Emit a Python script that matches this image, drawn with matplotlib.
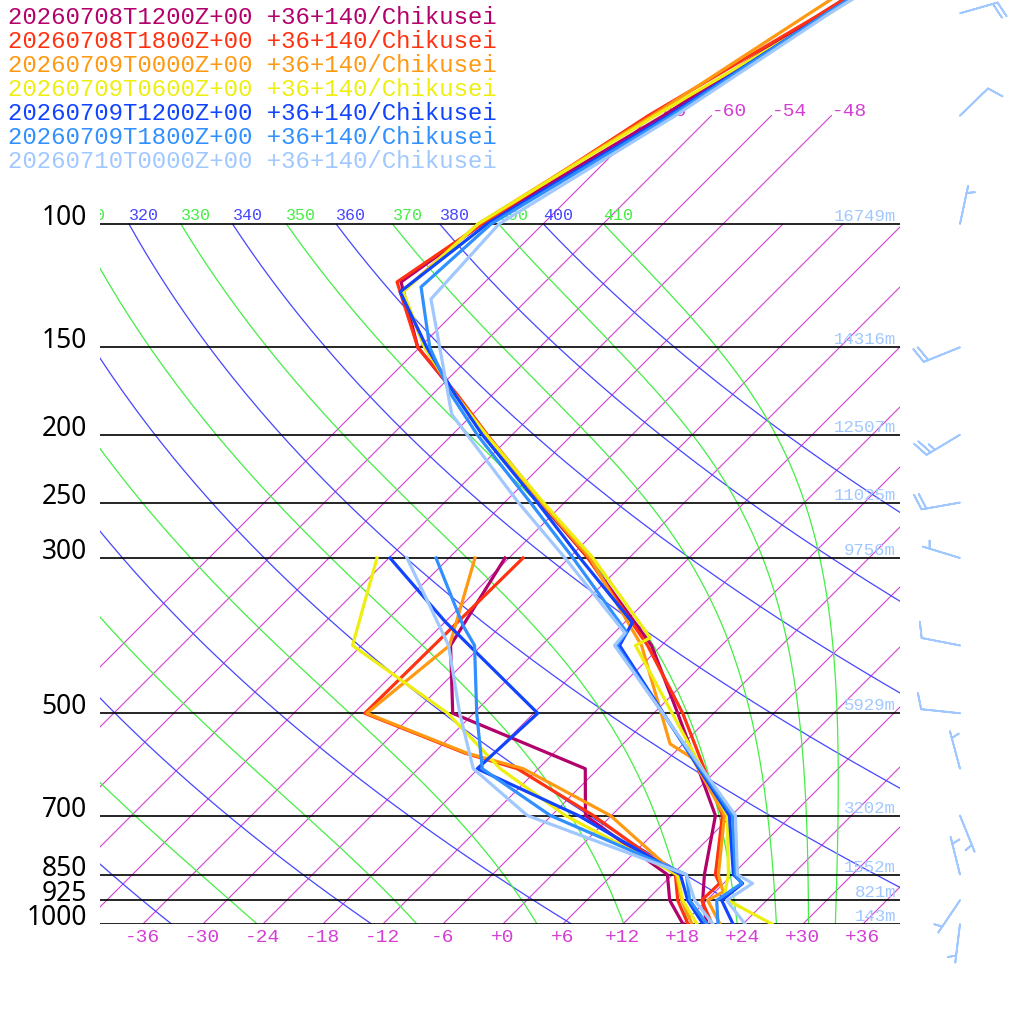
import numpy as np
import matplotlib
matplotlib.use('Agg')
import matplotlib.pyplot as plt
from matplotlib.transforms import offset_copy

# model runs in the legend, oldest first
RUNS = ['20260708T1200Z+00', '20260708T1800Z+00', '20260709T0000Z+00', '20260709T0600Z+00',
        '20260709T1200Z+00', '20260709T1800Z+00', '20260710T0000Z+00']
PLACE = '+36+140/Chikusei'

# temperature profiles: pressure (hPa) and temperature (degC), one list per run
TEMP_P = [
    [30, 50, 70, 100, 121, 150, 175, 200, 250, 300, 400, 500, 600, 700, 850, 925, 1000],
    [30, 50, 70, 100, 121, 150, 175, 200, 250, 300, 400, 500, 600, 700, 850, 875, 925, 1000],
    [30, 50, 70, 100, 125, 150, 175, 200, 250, 300, 400, 553, 579, 700, 850, 900, 925, 1000],
    [30, 50, 70, 100, 125, 150, 175, 200, 250, 300, 390, 400, 700, 850, 900, 925, 1000],
    [30, 50, 70, 100, 125, 150, 175, 200, 250, 300, 371, 400, 700, 850, 875, 925, 1000],
    [30, 50, 70, 100, 123, 150, 175, 200, 250, 300, 383, 400, 700, 850, 875, 925, 1000],
    [30, 50, 70, 100, 128, 150, 187, 250, 300, 384, 400, 700, 850, 875, 925, 1000],
]
TEMP_C = [
    [-50.0, -59.2, -64.8, -72.1, -74.4, -66.2, -57.7, -50.7, -38.4, -28.1, -13.0, -3.6, 4.0, 10.4, 15.2, 17.6, 20.4],
    [-50.0, -59.2, -66.3, -72.1, -74.8, -66.2, -57.6, -50.5, -38.2, -28.1, -13.4, -3.1, 4.6, 11.1, 16.3, 17.6, 17.5, 20.9],
    [-52.0, -60.4, -65.9, -72.5, -73.3, -65.5, -57.8, -50.7, -38.3, -27.9, -14.0, -1.3, 2.3, 11.3, 16.6, 18.8, 18.1, 21.7],
    [-49.0, -58.4, -65.6, -72.5, -73.2, -65.5, -57.8, -50.6, -38.1, -27.6, -13.9, -14.6, 11.6, 17.6, 19.0, 20.1, 26.9],
    [-49.4, -58.7, -64.3, -71.6, -73.5, -65.3, -57.8, -51.0, -38.7, -28.9, -17.2, -16.2, 11.8, 18.1, 19.9, 19.5, 23.0],
    [-49.4, -58.7, -64.0, -71.2, -71.9, -65.0, -58.2, -51.5, -39.4, -29.6, -16.8, -16.5, 12.1, 18.3, 19.8, 19.0, 21.5],
    [-49.0, -58.4, -63.6, -70.4, -69.7, -64.0, -56.1, -40.6, -30.4, -16.9, -16.7, 12.4, 18.5, 20.9, 20.0, 24.2],
]

# dew point profiles below 300 hPa
DEW_P = [
    [300, 400, 500, 600, 700, 850, 925, 1000],
    [300, 500, 570, 600, 700, 850, 925, 1000],
    [300, 400, 500, 570, 600, 700, 850, 925, 1000],
    [300, 400, 500, 600, 700, 850, 925, 1000],
    [300, 370, 500, 600, 700, 850, 925, 1000],
    [300, 375, 400, 500, 600, 700, 850, 925, 1000],
    [300, 400, 500, 600, 700, 850, 925, 1000],
]
DEW_C = [
    [-36.4, -33.1, -26.1, -7.3, -2.6, 11.5, 14.3, 18.0],
    [-34.6, -34.9, -20.9, -14.1, -1.8, 12.3, 15.1, 18.5],
    [-39.4, -33.2, -34.7, -20.7, -13.5, -0.1, 12.4, 15.5, 18.9],
    [-49.2, -42.9, -26.6, -15.8, -4.6, 12.5, 15.6, 19.4],
    [-47.9, -36.0, -17.6, -18.1, -3.3, 12.8, 16.1, 20.0],
    [-43.3, -33.8, -30.7, -23.7, -17.6, -6.1, 13.4, 16.3, 20.4],
    [-46.2, -33.3, -25.4, -18.5, -8.4, 13.4, 16.8, 21.0],
]

# isobars with geopotential height of the last run
LEVELS = [100, 150, 200, 250, 300, 500, 700, 850, 925, 1000]
HEIGHTS = [16749, 14316, 12507, 11025, 9756, 5929, 3202, 1552, 821, 143]

# wind of the last run
WIND_P = [50, 70, 100, 150, 200, 250, 300, 400, 500, 600, 700, 850, 925, 1000]
WIND_DIR = [74, 46, 12, 248, 239, 260, 287, 281, 276, 345, 158, 346, 214, 187]
WIND_KT = [20, 10, 5, 20, 25, 20, 5, 10, 10, 5, 5, 5, 5, 5]

COLORS = ['#b3006b', '#ff3311', '#ff9911', '#eeee11', '#1144ff', '#3090ff', '#a0c8ff']
MAGENTA = '#d23fd2'
BLUE = '#4646ff'
GREEN = '#44ee44'
MONO = 'Liberation Mono'

SKEW = 30.4
X_LEFT, X_RIGHT = -40.3, 39.7
P_TOP = 1000 * np.exp(-924 / 304)


def skew(t, p):
    return np.asarray(t, float) + SKEW * np.log(1000.0 / np.asarray(p, float))


def sat_mix(tk, p):
    es = 6.112 * np.exp(17.67 * (tk - 273.15) / (tk - 29.65))
    return 0.622 * es / (p - es)


def moist_rate(tk, p):
    rs = sat_mix(tk, p)
    return (287.04 * tk + 2.501e6 * rs) / (1005.7 + 2.501e6 ** 2 * rs * 0.622 / (287.04 * tk ** 2)) / p


def moist_adiabat(theta_e, ps):
    lo, hi = 200.0, 330.0
    for _ in range(60):
        mid = (lo + hi) / 2
        r = sat_mix(mid, 1000.0) * 1000
        te = mid * np.exp((3.376 / mid - 0.00254) * r * (1 + 0.00081 * r))
        if te > theta_e:
            hi = mid
        else:
            lo = mid
    t = (lo + hi) / 2
    out = [t]
    for p0, p1 in zip(ps[:-1], ps[1:]):
        h = p1 - p0
        k1 = moist_rate(t, p0)
        k2 = moist_rate(t + h * k1 / 2, p0 + h / 2)
        k3 = moist_rate(t + h * k2 / 2, p0 + h / 2)
        k4 = moist_rate(t + h * k3, p1)
        t = t + h * (k1 + 2 * k2 + 2 * k3 + k4) / 6
        out.append(t)
    return np.array(out) - 273.15


fig = plt.figure(figsize=(10.24, 10.24), dpi=100)
ax = fig.add_axes([100 / 1024, 100 / 1024, 800 / 1024, 924 / 1024])
ax.set_yscale('log')
ax.set_ylim(1000, P_TOP)
ax.set_xlim(X_LEFT, X_RIGHT)
ax.axis('off')


def off(dx, dy):
    return offset_copy(ax.transData, fig=fig, x=dx, y=dy, units='dots')


# isotherms, the coldest ones run up to 70 hPa with a label at the top
for t in range(-66, 37, 6):
    top = 70 if t <= -48 else 100
    ax.plot(skew([t, t], [1000, top]), [1000, top], color=MAGENTA, lw=0.8, zorder=1)
    if top == 70:
        ax.text(skew(t, 70), 70, f'{t:d}', color=MAGENTA, fontsize=14, family=MONO,
                ha='left', va='baseline', zorder=2)
    if t >= -36:
        ax.text(t, 1000, f'{t:+d}', color=MAGENTA, fontsize=14, family=MONO,
                ha='center', va='center', transform=off(0, -13), clip_on=False)

# dry adiabats (blue) and pseudo adiabats (green), labelled at 100 hPa
ps = np.linspace(1000, 100, 181)
for th in range(240, 401, 20):
    tc = th * (ps / 1000) ** 0.2857 - 273.15
    ax.plot(skew(tc, ps), ps, color=BLUE, lw=0.9, zorder=1)
    x100 = skew(tc[-1], 100)
    if x100 > X_LEFT - 3:
        ax.text(x100, 100, str(th), color=BLUE, fontsize=12, family=MONO,
                ha='left', va='baseline', transform=off(0, 4), clip_on=True, zorder=2)
for th in range(250, 411, 20):
    tc = moist_adiabat(th, ps)
    ax.plot(skew(tc, ps), ps, color=GREEN, lw=0.9, zorder=1)
    x100 = skew(tc[-1], 100)
    if x100 > X_LEFT - 3:
        ax.text(x100, 100, str(th), color=GREEN, fontsize=12, family=MONO,
                ha='left', va='baseline', transform=off(0, 4), clip_on=True, zorder=2)

# isobars, pressure and height labels
ax.hlines(LEVELS, X_LEFT, X_RIGHT, color='black', lw=1.2, zorder=1.5)
for p, h in zip(LEVELS, HEIGHTS):
    ax.text(-41.6, p, str(p), color='black', fontsize=19, family='Noto Sans',
            ha='right', va='baseline', transform=off(0, -1), clip_on=False)
    ax.text(39.3, p, f'{h}m', color=COLORS[-1], fontsize=12.5, family=MONO,
            ha='right', va='baseline', transform=off(0, 3), zorder=2)

# profiles, temperature and dew point per run
for i in range(len(RUNS)):
    ax.plot(skew(TEMP_C[i], TEMP_P[i]), TEMP_P[i], color=COLORS[i], lw=2.3, zorder=3 + i * 0.1)
    ax.plot(skew(DEW_C[i], DEW_P[i]), DEW_P[i], color=COLORS[i], lw=2.3, zorder=3 + i * 0.1)

# wind barbs of the last run
wd = np.radians(WIND_DIR)
ws = np.array(WIND_KT, float)
u = -ws * np.sin(wd)
v = -ws * np.cos(wd)
ax.barbs(np.full(len(WIND_P), 45.7), WIND_P, u, v, length=7.5, color=COLORS[-1],
         linewidth=1.3, clip_on=False, zorder=4)

# legend
for i, run in enumerate(RUNS):
    fig.text(8 / 1024, 1 - (17 + 24 * i) / 1024, f'{run} {PLACE}', color=COLORS[i],
             fontsize=17.3, family=MONO, ha='left', va='center')

fig.savefig('out.png', dpi=100)
